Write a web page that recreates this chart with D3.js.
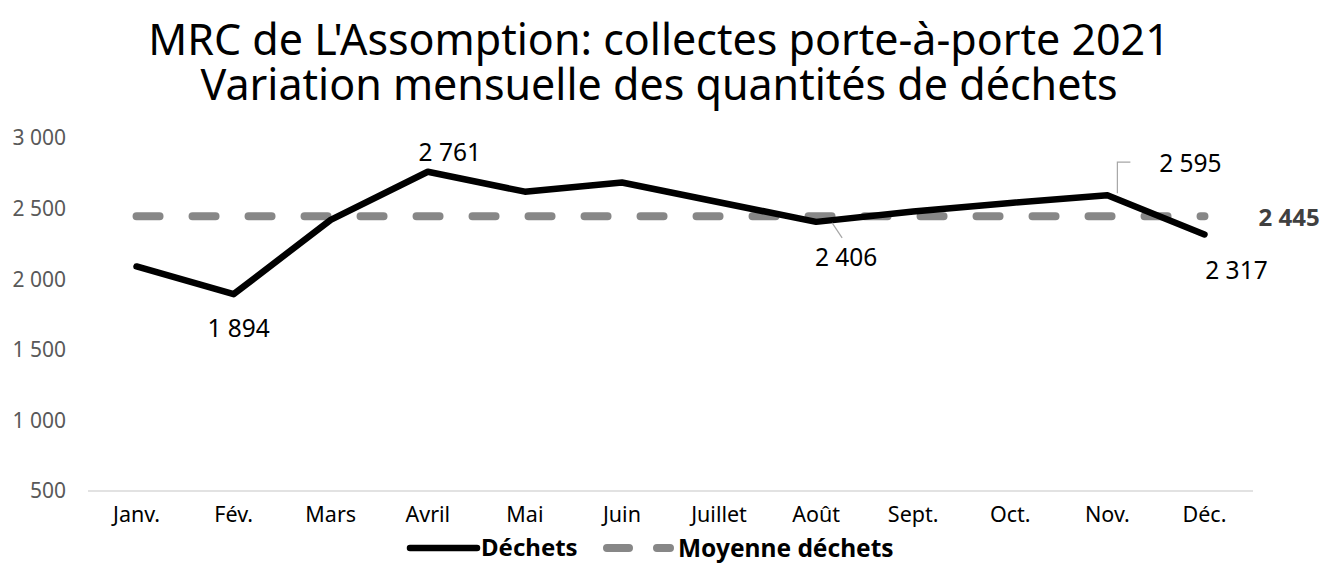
<!DOCTYPE html>
<html>
<head>
  <meta charset="utf-8">
  <title>MRC de L'Assomption</title>
  <style>
    body { margin: 0; background: #fff; font-family: "Noto Sans", "Open Sans", sans-serif; }
    svg text { font-family: "Noto Sans", "Open Sans", sans-serif; }
  </style>
</head>
<body>
  <svg id="chart" width="1334" height="563"></svg>

  <script src="https://d3js.org/d3.v7.min.js"></script>
  <script>
    // Données
    var months = ["Janv.", "Fév.", "Mars", "Avril", "Mai", "Juin", "Juillet", "Août", "Sept.", "Oct.", "Nov.", "Déc."];
    var dechets = [2090, 1894, 2420, 2761, 2620, 2685, 2545, 2406, 2480, 2540, 2595, 2317];
    var moyenne = [2445, 2445, 2445, 2445, 2445, 2445, 2445, 2445, 2445, 2445, 2445, 2445];
    var yTicks = [500, 1000, 1500, 2000, 2500, 3000];
    var titleLines = ["MRC de L'Assomption: collectes porte-à-porte 2021", "Variation mensuelle des quantités de déchets"];

    var svg = d3.select("#chart");
    var fmt = function (v) { return d3.format(",")(v).replace(/,/g, " "); };

    var x = d3.scaleBand().domain(months).range([88, 1253]);
    var y = d3.scaleLinear().domain([500, 3000]).range([491, 138]);
    var cx = function (i) { return x(months[i]) + x.bandwidth() / 2; };

    // titre
    svg.selectAll("text.title")
      .data(titleLines)
      .enter().append("text")
      .attr("class", "title")
      .attr("x", 659)
      .attr("y", function (d, i) { return 55 + i * 45; })
      .attr("text-anchor", "middle")
      .attr("font-size", 43)
      .attr("fill", "#000")
      .text(function (d) { return d; });

    // axe Y (étiquettes seulement)
    svg.selectAll("text.ytick")
      .data(yTicks)
      .enter().append("text")
      .attr("class", "ytick")
      .attr("x", 66)
      .attr("y", function (d) { return y(d); })
      .attr("dy", "0.35em")
      .attr("text-anchor", "end")
      .attr("font-size", 21)
      .attr("fill", "#595959")
      .text(fmt);

    // ligne de base
    svg.append("line")
      .attr("x1", 88).attr("x2", 1253)
      .attr("y1", y(500)).attr("y2", y(500))
      .attr("stroke", "#d9d9d9").attr("stroke-width", 1.5);

    // axe X
    var xAxis = svg.append("g")
      .attr("transform", "translate(0," + (y(500) + 8) + ")")
      .call(d3.axisBottom(x).tickSize(0).tickPadding(8));
    xAxis.select(".domain").remove();
    xAxis.selectAll("text").attr("font-size", 21.5).attr("fill", "#000")
      .style("font-family", "'Noto Sans', sans-serif");

    // moyenne (pointillés)
    var line = d3.line()
      .x(function (d, i) { return cx(i); })
      .y(function (d) { return y(d); });

    svg.append("path")
      .datum(moyenne)
      .attr("d", line)
      .attr("fill", "none")
      .attr("stroke", "#878787")
      .attr("stroke-width", 8)
      .attr("stroke-linecap", "round")
      .attr("stroke-dasharray", "23 33");

    // déchets
    svg.append("path")
      .datum(dechets)
      .attr("d", line)
      .attr("fill", "none")
      .attr("stroke", "#000")
      .attr("stroke-width", 6.5)
      .attr("stroke-linejoin", "round")
      .attr("stroke-linecap", "round");

    // étiquettes de données
    var labels = [
      { i: 1, dx: 5, dy: 34 },
      { i: 3, dx: 22, dy: -19 },
      { i: 7, dx: 30, dy: 36 },
      { i: 10, dx: 83, dy: -32 },
      { i: 11, dx: 32, dy: 36 }
    ];
    svg.selectAll("text.dlabel")
      .data(labels)
      .enter().append("text")
      .attr("class", "dlabel")
      .attr("x", function (d) { return cx(d.i) + d.dx; })
      .attr("y", function (d) { return y(dechets[d.i]) + d.dy; })
      .attr("dy", "0.35em")
      .attr("text-anchor", "middle")
      .attr("font-size", 24.5)
      .attr("fill", "#000")
      .text(function (d) { return fmt(dechets[d.i]); });

    // lignes de rappel
    svg.append("line")
      .attr("x1", cx(7) + 16).attr("y1", y(dechets[7]) + 1)
      .attr("x2", cx(7) + 26).attr("y2", y(dechets[7]) + 16)
      .attr("stroke", "#a6a6a6").attr("stroke-width", 1.2);
    svg.append("polyline")
      .attr("points", [
        [cx(10) + 10, y(dechets[10]) - 2],
        [cx(10) + 10, y(dechets[10]) - 33],
        [cx(10) + 23, y(dechets[10]) - 33]
      ].join(" "))
      .attr("fill", "none")
      .attr("stroke", "#a6a6a6").attr("stroke-width", 1.2);

    // étiquette de la moyenne
    svg.append("text")
      .attr("x", cx(11) + 54)
      .attr("y", y(moyenne[11]) + 1)
      .attr("dy", "0.35em")
      .attr("font-size", 24)
      .attr("font-weight", "bold")
      .attr("fill", "#404040")
      .text(fmt(moyenne[11]));

    // légende
    var lg = svg.append("g").attr("transform", "translate(0,548)");
    lg.append("line")
      .attr("x1", 410).attr("x2", 477).attr("y1", 0).attr("y2", 0)
      .attr("stroke", "#000").attr("stroke-width", 6.5).attr("stroke-linecap", "round");
    lg.append("text")
      .attr("x", 481).attr("y", 0).attr("dy", "0.35em")
      .attr("font-size", 24).attr("font-weight", "bold")
      .text("Déchets");
    lg.append("line")
      .attr("x1", 607).attr("x2", 670).attr("y1", 0).attr("y2", 0)
      .attr("stroke", "#878787").attr("stroke-width", 8).attr("stroke-linecap", "round")
      .attr("stroke-dasharray", "22 28");
    lg.append("text")
      .attr("x", 678).attr("y", 0).attr("dy", "0.35em")
      .attr("font-size", 24.5).attr("font-weight", "bold")
      .text("Moyenne déchets");
  </script>
</body>
</html>
